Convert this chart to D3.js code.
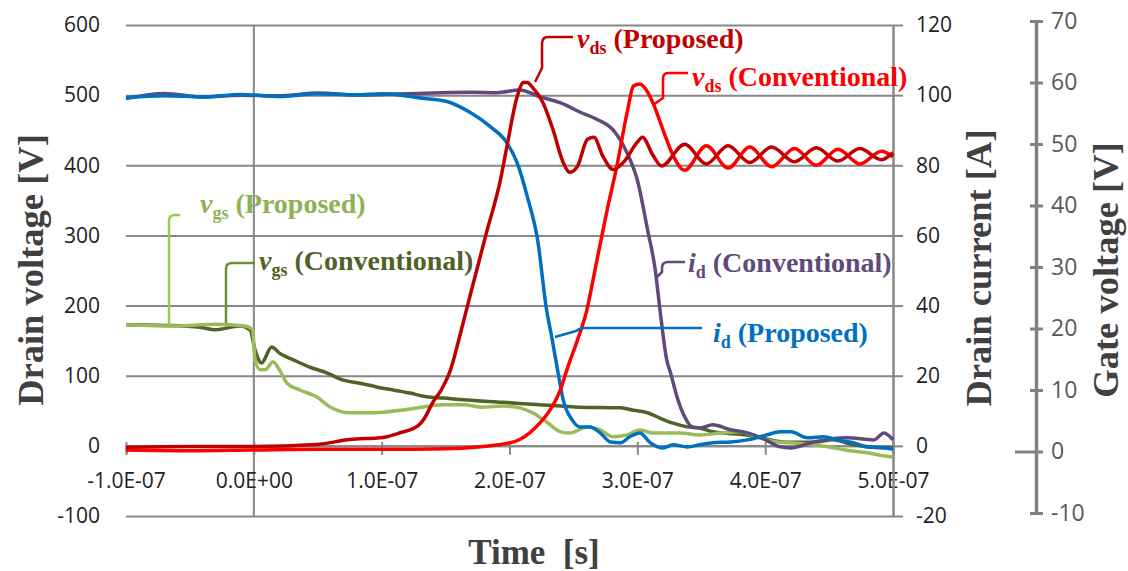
<!DOCTYPE html>
<html>
<head>
<meta charset="utf-8">
<script src="https://cdn.jsdelivr.net/npm/d3@7"></script>
<style>
  html, body { margin: 0; padding: 0; background: #fff; }
  svg { display: block; }
  .tick text { font-family: "Open Sans", sans-serif; }
</style>
</head>
<body>
<svg id="chart" width="1128" height="571"></svg>
<script>
// ---- Axis ticks ----
const timeTicks = [-100, 0, 100, 200, 300, 400, 500];          // ns
const timeTickLabels = ["-1.0E-07", "0.0E+00", "1.0E-07", "2.0E-07", "3.0E-07", "4.0E-07", "5.0E-07"];
const voltTicks = [-100, 0, 100, 200, 300, 400, 500, 600];
const currentTicks = [-20, 0, 20, 40, 60, 80, 100, 120];
const gateTicks = [-10, 0, 10, 20, 30, 40, 50, 60, 70];

// ---- Drain current, proposed [A] ----
const tIdProp = [-100,-70,-40,-10,20,50,80,100,115,130,151,169,185,198,206,214,222,229,233,238,242,249,255,263,271,279,287,294,302,310,320,328,339,349,359,373,386,400,412,420,433,446,456,469,480,495,500];
const idProp  = [99.3,99.8,99.5,100.2,99.6,100.4,100.1,100.4,100,99.2,98.2,95.1,91.0,86.4,80.7,71.0,58.7,38.8,31.1,20.8,13.1,7.4,5.4,5.4,3.7,1.1,0.9,2.6,3.7,0.9,-0.6,0.3,-0.3,0.3,0.9,1.1,1.7,3.0,4.0,4.0,2.3,2.6,1.7,0.9,-0.3,-0.6,-1.0];

// ---- Drain current, conventional [A] ----
const tIdConv = [-100,-70,-40,-10,20,50,80,110,140,170,190,208,224,240,255,269,281,292,300,308,314,318,323,326,331,337,343,349,359,373,386,400,412,420,438,464,485,493,500];
const idConv  = [99.0,100.5,99.5,100.0,99.8,100.6,100.0,100.3,100.6,100.8,100.7,101.5,99.5,97.8,95.2,93.0,90.1,83.5,75.8,61.6,50.2,37.9,24.5,20.8,14.0,8.3,5.4,5.1,6.0,4.6,3.7,1.8,-0.3,-0.6,1.1,2.3,1.7,3.7,1.7];

// ---- Drain-source voltage, proposed [V] ----
const tVdsProp = [-100,-50,0,49,75,101,115,128,133,140,147,154,161,169,182,193,198,206,211,214,218,226,234,242,247,253,261,266,273,281,289,300,304,312,319,337,354,371,388,405,423,440,457,474,491,500];
const vdsProp  = [-2,-1,-1,2,9,12,19,28,38,62,81,109,156,213,304,380,427,498,518,518,511,490,451,404,390,398,437,440,413,394,404,433,440,415,399,430,402,428,404,426,405,425,406,424,408,418];

// ---- Drain-source voltage, conventional [V] ----
const tVdsConv = [-100,-50,0,50,100,150,193,208,216,224,232,240,245,253,260,268,276,284,292,297,302,306,312,320,327,337,354,371,388,405,423,440,457,474,491,500];
const vdsConv  = [-6,-7,-6,-5,-5,-4,2,9,19,33,52,81,109,150,190,261,333,399,475,513,516,510,490,451,418,393,428,396,426,398,424,400,423,402,420,412];

// ---- Gate-source voltage, proposed [V] ----
const tVgsProp = [-100,-60,-30,-7,-1,1,5,9,15,20,26,36,49,60,75,89,101,115,128,148,164,179,195,208,218,229,240,247,261,271,281,292,302,312,333,349,365,380,396,412,422,438,451,464,480,490,500];
const vgsProp  = [20.6,20.4,20.7,20.4,19.8,14.9,13.3,13.3,14.6,13.3,11.1,10.0,8.9,7.2,6.3,6.3,6.4,6.7,7.1,7.6,7.6,7.2,7.4,7.1,6.3,4.8,3.2,3.0,4.0,3.5,2.4,2.7,3.5,3.0,3.0,2.7,3.0,3.2,2.2,1.5,1.4,1.1,0.7,0.2,-0.2,-0.6,-0.9];

// ---- Gate-source voltage, conventional [V] ----
const tVgsConv = [-100,-70,-42,-30,-11,-3,1,6,14,20,31,44,57,70,83,96,109,122,135,148,164,195,224,255,287,297,308,318,328,339,349,359,386,417,438,453,469,485,500];
const vgsConv  = [20.6,20.5,20.2,19.8,20.4,19.8,16.5,14.4,17.0,16.0,14.9,13.7,12.8,11.6,11.1,10.5,10.0,9.5,8.9,8.7,8.4,8.0,7.6,7.2,7.1,6.7,6.3,5.4,4.6,4.0,3.8,3.2,2.7,1.5,1.5,1.9,1.1,0.7,0.6];

// ---- Layout ----
const svg = d3.select("#chart");
const plotL = 126, plotR = 893, plotT = 25, plotB = 516;
const gateX = 1036;
const gridColor = "#878787";

const x  = d3.scaleLinear().domain([-100, 500]).range([plotL, plotR]);
const yV = d3.scaleLinear().domain([-100, 600]).range([plotB, plotT]);
const yI = d3.scaleLinear().domain([-20, 120]).range([plotB, plotT]);
const yG = d3.scaleLinear().domain([-10, 70]).range([513, 21]);

// Horizontal gridlines + drain-voltage labels
const gLeft = svg.append("g").attr("transform", `translate(${plotL},0)`)
  .call(d3.axisLeft(yV).tickValues(voltTicks).tickSize(-(plotR - plotL)).tickPadding(26).tickFormat(d => d));
gLeft.select(".domain").remove();
gLeft.selectAll(".tick line").attr("stroke", gridColor).attr("stroke-width", 2);
gLeft.selectAll(".tick text").attr("font-size", 21).attr("fill", "#222");

// Vertical line at t = 0
svg.append("line").attr("x1", x(0)).attr("x2", x(0)).attr("y1", plotT).attr("y2", plotB)
  .attr("stroke", gridColor).attr("stroke-width", 2);

// Time axis on the 0 V line, labels below
const gX = svg.append("g").attr("transform", `translate(0,${yV(0)})`)
  .call(d3.axisBottom(x).tickValues(timeTicks).tickSize(9).tickPadding(18)
        .tickFormat((d, i) => timeTickLabels[i]));
gX.select(".domain").attr("stroke", gridColor).attr("stroke-width", 2);
gX.selectAll(".tick line").attr("stroke", gridColor).attr("stroke-width", 2).attr("y1", -4);
gX.selectAll(".tick text").attr("font-size", 21).attr("fill", "#222");

// Drain-current axis (right)
const gRight = svg.append("g").attr("transform", `translate(${plotR},0)`)
  .call(d3.axisRight(yI).tickValues(currentTicks).tickSizeInner(10).tickSizeOuter(0).tickPadding(13).tickFormat(d => d));
gRight.select(".domain").attr("stroke", gridColor).attr("stroke-width", 2.5);
gRight.selectAll(".tick line").attr("stroke", gridColor).attr("stroke-width", 2);
gRight.selectAll(".tick text").attr("font-size", 21).attr("fill", "#222");

// Gate-voltage axis (far right)
const gGate = svg.append("g").attr("transform", `translate(${gateX},0)`)
  .call(d3.axisRight(yG).tickValues(gateTicks).tickSizeInner(7).tickSizeOuter(0).tickPadding(8).tickFormat(d => d));
gGate.select(".domain").attr("stroke", "#808080").attr("stroke-width", 3.5);
gGate.selectAll(".tick line").attr("stroke", "#808080").attr("stroke-width", 3)
  .attr("x1", d => d === 0 ? -21 : -6);
gGate.selectAll(".tick text").attr("font-size", 23).attr("fill", "#595959");

// ---- Traces ----
function trace(ts, vs, yScale, color) {
  const pts = ts.map((t, i) => [x(t), yScale(vs[i])]);
  svg.append("path")
    .attr("d", d3.line().curve(d3.curveMonotoneX)(pts))
    .attr("fill", "none").attr("stroke", color).attr("stroke-width", 3.5)
    .attr("stroke-linejoin", "round");
}
trace(tVgsConv, vgsConv, yG, "#4F6228");
trace(tVgsProp, vgsProp, yG, "#9BBB59");
trace(tIdConv, idConv, yI, "#604A7B");
trace(tIdProp, idProp, yI, "#0070C0");
trace(tVdsConv, vdsConv, yV, "#FF0000");
trace(tVdsProp, vdsProp, yV, "#C00000");

// ---- Axis titles ----
const titleFont = "'Liberation Serif', 'Times New Roman', serif";
function vTitle(bx, cy, txt) {
  svg.append("text").attr("transform", `translate(${bx},${cy}) rotate(-90)`)
    .attr("text-anchor", "middle").attr("font-family", titleFont).attr("font-weight", "bold")
    .attr("font-size", 36.5).attr("fill", "#404040").text(txt);
}
vTitle(43, 270, "Drain voltage [V]");
vTitle(991, 268, "Drain current [A]");
vTitle(1118, 270, "Gate voltage [V]");
svg.append("text").attr("x", 534).attr("y", 564).attr("text-anchor", "middle")
  .attr("font-family", titleFont).attr("font-weight", "bold").attr("font-size", 35)
  .attr("fill", "#404040").attr("xml:space", "preserve").text("Time  [s]");

// ---- Callout labels ----
function callout(xPos, yPos, sym, sub, rest, color, lineColor, path) {
  svg.append("path").attr("d", path).attr("fill", "none")
    .attr("stroke", lineColor).attr("stroke-width", 2.5).attr("stroke-linejoin", "round");
  const t = svg.append("text").attr("x", xPos).attr("y", yPos)
    .attr("font-family", titleFont).attr("font-weight", "bold").attr("font-size", 28).attr("fill", color);
  t.append("tspan").attr("font-style", "italic").text(sym);
  t.append("tspan").attr("font-size", 18).attr("dy", 6).text(sub);
  t.append("tspan").attr("dy", -6).text(" " + rest);
}
callout(577, 48, "v", "ds", "(Proposed)", "#C00000", "#C00000",
  "M573,37 L548,37 Q542,37 542,44 L542,68 L535,82");
callout(692, 86, "v", "ds", "(Conventional)", "#FF0000", "#FF0000",
  "M688,73 L668,73 Q663,73 663,79 L663,98 L653,105");
callout(200, 213, "v", "gs", "(Proposed)", "#8DB255", "#92D050",
  "M180,215 L175,215 Q169,215 169,221 L169,325");
callout(259, 270, "v", "gs", "(Conventional)", "#4F6228", "#6E8F36",
  "M255,263 L232,263 Q226,263 226,269 L226,323");
callout(688, 272, "i", "d", "(Conventional)", "#604A7B", "#604A7B",
  "M685,262 L668,262 Q662,262 662,268 L662,272 L657,277");
callout(713, 342, "i", "d", "(Proposed)", "#0070C0", "#0070C0",
  "M702,328 L585,328 Q580,328 576,331 L555,337");
</script>
</body>
</html>
